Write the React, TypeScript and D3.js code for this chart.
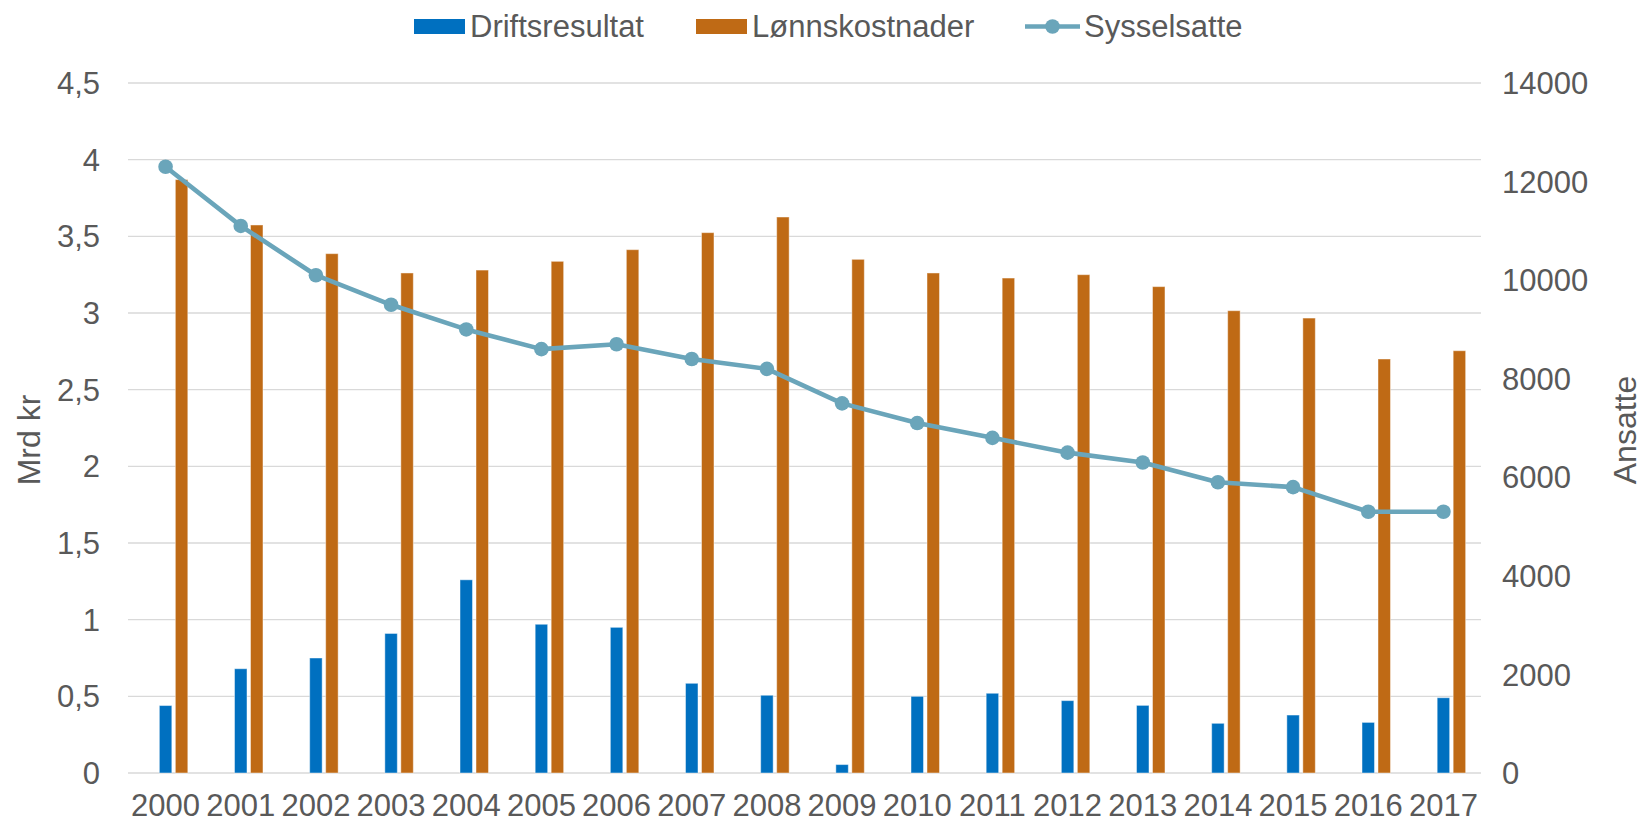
import React from 'react';
import * as d3 from 'd3';

// years on the x axis
const years = [
  '2000', '2001', '2002', '2003', '2004', '2005', '2006', '2007', '2008',
  '2009', '2010', '2011', '2012', '2013', '2014', '2015', '2016', '2017',
];

// Mrd kr, left axis
const driftsresultat = [
  0.44, 0.68, 0.75, 0.91, 1.26, 0.97, 0.95, 0.585, 0.507,
  0.055, 0.5, 0.52, 0.472, 0.441, 0.324, 0.378, 0.33, 0.491,
];
const lonnskostnader = [
  3.87, 3.574, 3.387, 3.261, 3.28, 3.337, 3.413, 3.524, 3.626,
  3.35, 3.261, 3.228, 3.25, 3.172, 3.015, 2.967, 2.7, 2.754,
];

// Ansatte, right axis
const sysselsatte = [
  12300, 11100, 10100, 9500, 9000, 8600, 8700, 8400, 8200,
  7500, 7100, 6800, 6500, 6300, 5900, 5800, 5300, 5300,
];

const leftTicks = [0, 0.5, 1, 1.5, 2, 2.5, 3, 3.5, 4, 4.5];
const rightTicks = [0, 2000, 4000, 6000, 8000, 10000, 12000, 14000];

const W = 1644;
const H = 825;
const margin = { top: 83, right: 163, bottom: 52, left: 128 };

const BLUE = '#0070C0';
const ORANGE = '#BF6A15';
const TEAL = '#6AA5BA';
const TEXT = '#595959';
const GRID = '#D9D9D9';
const FONT = '"Liberation Sans", Arial, sans-serif';

const App = () => {
  const x = d3.scaleBand<string>()
    .domain(years)
    .range([margin.left, W - margin.right])
    .padding(0);

  // three slots per year, the first one is empty (like the Excel layout)
  const x1 = d3.scaleBand<string>()
    .domain(['tom', 'Driftsresultat', 'Lønnskostnader'])
    .range([0, x.bandwidth()])
    .paddingInner(0.22)
    .paddingOuter(0.96);

  const yL = d3.scaleLinear().domain([0, 4.5]).range([H - margin.bottom, margin.top]);
  const yR = d3.scaleLinear().domain([0, 14000]).range([H - margin.bottom, margin.top]);

  const fmt = (v: number) => String(v).replace('.', ',');

  const line = d3.line<number>()
    .x((_, i) => (x(years[i]) as number) + x.bandwidth() / 2)
    .y(d => yR(d));

  const bars = [
    { key: 'Driftsresultat', values: driftsresultat, color: BLUE },
    { key: 'Lønnskostnader', values: lonnskostnader, color: ORANGE },
  ];

  return (
    <svg
      width={W}
      height={H}
      style={{ position: 'absolute', left: 0, top: 0, background: '#fff' }}
      fontFamily={FONT}
    >
      {/* gridlines */}
      <g>
        {leftTicks.map(t => (
          <line key={t} x1={margin.left} x2={W - margin.right} y1={yL(t)} y2={yL(t)}
            stroke={GRID} strokeWidth={1.4} />
        ))}
      </g>

      {/* bars */}
      {bars.map(s => (
        <g key={s.key}>
          {s.values.map((v, i) => (
            <rect key={years[i]}
              x={(x(years[i]) as number) + (x1(s.key) as number)}
              y={yL(v)}
              width={x1.bandwidth()}
              height={yL(0) - yL(v)}
              fill={s.color}
              stroke="#fff" strokeOpacity={0.45} strokeWidth={1} />
          ))}
        </g>
      ))}

      {/* line */}
      <path d={line(sysselsatte) || ''} fill="none" stroke={TEAL} strokeWidth={4.6}
        strokeLinejoin="round" />
      {sysselsatte.map((v, i) => (
        <circle key={years[i]} cx={(x(years[i]) as number) + x.bandwidth() / 2} cy={yR(v)}
          r={7.3} fill={TEAL} />
      ))}

      {/* left axis labels */}
      {leftTicks.map(t => (
        <text key={t} x={100} y={yL(t)} dy="0.36em" textAnchor="end" fontSize={31} fill={TEXT}>
          {fmt(t)}
        </text>
      ))}

      {/* right axis labels */}
      {rightTicks.map(t => (
        <text key={t} x={1502} y={yR(t)} dy="0.36em" textAnchor="start" fontSize={31} fill={TEXT}>
          {t}
        </text>
      ))}

      {/* year labels */}
      {years.map(yr => (
        <text key={yr} x={(x(yr) as number) + x.bandwidth() / 2} y={816}
          textAnchor="middle" fontSize={31} fill={TEXT}>
          {yr}
        </text>
      ))}

      {/* axis titles */}
      <text transform="translate(40,440) rotate(-90)" textAnchor="middle" fontSize={32} fill={TEXT}>
        Mrd kr
      </text>
      <text transform="translate(1636,430) rotate(-90)" textAnchor="middle" fontSize={32} fill={TEXT}>
        Ansatte
      </text>

      {/* legend */}
      <g>
        <rect x={414} y={19} width={51} height={15} fill={BLUE} />
        <text x={470} y={37} fontSize={31} fill={TEXT}>Driftsresultat</text>
        <rect x={696} y={19} width={51} height={15} fill={ORANGE} />
        <text x={752} y={37} fontSize={31} fill={TEXT}>Lønnskostnader</text>
        <line x1={1025} x2={1080} y1={26.5} y2={26.5} stroke={TEAL} strokeWidth={4.6} />
        <circle cx={1052.5} cy={26.5} r={7.3} fill={TEAL} />
        <text x={1084} y={37} fontSize={31} fill={TEXT}>Sysselsatte</text>
      </g>
    </svg>
  );
};

export default App;
